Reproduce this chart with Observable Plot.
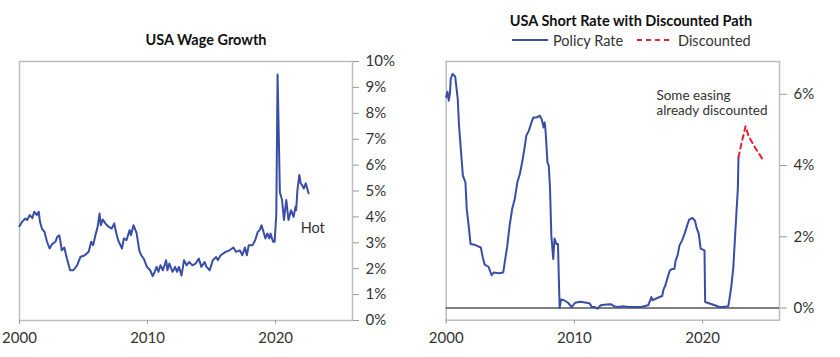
<!DOCTYPE html>
<html><head><meta charset="utf-8">
<script src="https://cdn.jsdelivr.net/npm/d3@7"></script>
<script src="https://cdn.jsdelivr.net/npm/@observablehq/plot@0.6"></script>
<style>
body{margin:0;background:#fff;font-family:Lato,"Open Sans",sans-serif;}
#wrap{position:relative;width:840px;height:357px;overflow:hidden;}
.panel{position:absolute;top:0;}
.title{position:absolute;font-weight:bold;font-size:14.5px;color:#111;white-space:nowrap;transform:translate(-50%,-50%);}
.leg{position:absolute;font-size:14.5px;color:#333;white-space:nowrap;transform:translateY(-50%);}
.legsw{position:absolute;transform:translateY(-50%);}
</style></head>
<body><div id="wrap">
<div class="title" style="left:206px;top:39px">USA Wage Growth</div>
<div class="title" style="left:631px;top:20px">USA Short Rate with Discounted Path</div>
<svg class="legsw" style="left:512px;top:40px" width="36" height="4"><line x1="0" x2="36" y1="2" y2="2" stroke="#3a4da6" stroke-width="2"/></svg>
<div class="leg" style="left:553px;top:40px">Policy Rate</div>
<svg class="legsw" style="left:637px;top:40px" width="36" height="4"><line x1="0" x2="36" y1="2" y2="2" stroke="#e8202e" stroke-width="2" stroke-dasharray="5,4"/></svg>
<div class="leg" style="left:678px;top:40px">Discounted</div>
<div id="left" class="panel" style="left:0"></div>
<div id="right" class="panel" style="left:420px"></div>
</div>
<script>
const wageYears = [2000.0,2000.2,2000.45,2000.6,2000.8,2001.0,2001.15,2001.35,2001.5,2001.6,2001.75,2001.95,2002.15,2002.35,2002.55,2002.8,2002.95,2003.1,2003.2,2003.3,2003.5,2003.7,2003.95,2004.2,2004.5,2004.75,2005.1,2005.4,2005.6,2005.75,2005.9,2006.1,2006.25,2006.35,2006.5,2006.7,2006.95,2007.2,2007.4,2007.5,2007.7,2008.0,2008.15,2008.35,2008.6,2008.7,2008.9,2009.15,2009.35,2009.5,2009.7,2009.95,2010.2,2010.4,2010.55,2010.7,2010.85,2011.0,2011.2,2011.45,2011.55,2011.7,2011.95,2012.15,2012.3,2012.45,2012.65,2012.85,2013.05,2013.25,2013.5,2013.75,2014.0,2014.2,2014.45,2014.6,2014.85,2015.1,2015.35,2015.5,2015.7,2016.1,2016.4,2016.7,2016.9,2017.2,2017.4,2017.6,2017.75,2017.9,2018.2,2018.4,2018.6,2018.75,2018.9,2019.2,2019.35,2019.5,2019.6,2019.8,2019.92,2020.05,2020.15,2020.33,2020.5,2020.65,2020.83,2021.0,2021.2,2021.4,2021.55,2021.6,2021.7,2021.85,2021.95,2022.05,2022.2,2022.35,2022.57];
const wageValues = [3.64,3.81,3.94,3.88,4.07,3.95,4.2,4.07,4.2,3.81,3.55,3.42,3.04,2.78,2.95,3.04,3.23,3.29,3.04,2.71,2.82,2.39,1.94,1.94,2.13,2.45,2.52,2.65,3.04,2.91,3.23,3.62,4.13,3.68,3.9,3.75,3.62,3.55,3.75,3.49,3.1,2.78,3.17,3.1,3.49,3.29,3.68,3.36,2.71,2.52,2.39,2.07,1.94,1.71,1.88,2.07,1.88,2.13,1.94,2.33,1.94,2.2,1.88,2.07,1.88,2.07,1.74,2.33,2.13,2.26,2.13,2.2,2.39,2.07,2.26,2.07,1.94,2.33,2.45,2.33,2.52,2.65,2.71,2.82,2.65,2.71,2.52,2.82,2.52,2.91,2.91,3.1,3.42,3.49,3.68,3.17,3.36,3.17,3.36,3.04,3.04,4.1,9.5,4.95,4.65,3.88,4.65,3.88,4.26,4.0,4.39,4.26,5.04,5.62,5.3,5.23,5.1,5.3,4.91];

const rateYears = [2000.0,2000.1,2000.2,2000.3,2000.35,2000.5,2000.7,2000.9,2001.0,2001.15,2001.3,2001.5,2001.6,2001.75,2001.9,2002.2,2002.45,2002.7,2002.85,2003.0,2003.3,2003.55,2003.7,2004.1,2004.45,2004.55,2004.75,2004.95,2005.15,2005.35,2005.55,2005.75,2005.95,2006.1,2006.25,2006.45,2006.65,2006.8,2007.05,2007.3,2007.45,2007.6,2007.68,2007.75,2007.9,2008.0,2008.1,2008.2,2008.35,2008.45,2008.6,2008.72,2008.78,2008.85,2008.95,2009.2,2009.5,2009.8,2010.05,2010.45,2010.95,2011.2,2011.35,2011.6,2011.8,2012.05,2012.5,2012.85,2013.1,2013.4,2013.8,2014.2,2014.7,2015.2,2015.75,2015.9,2016.0,2016.1,2016.4,2016.65,2016.85,2016.95,2017.1,2017.3,2017.45,2017.65,2017.8,2017.9,2018.05,2018.2,2018.4,2018.6,2018.8,2018.95,2019.2,2019.4,2019.55,2019.7,2019.85,2020.15,2020.2,2020.55,2020.95,2021.3,2021.6,2022.0,2022.1,2022.25,2022.4,2022.5,2022.65,2022.75,2022.8];
const rateValues = [5.92,6.07,5.82,6.05,6.43,6.57,6.5,5.87,5.12,4.42,3.72,3.53,2.79,2.32,1.8,1.78,1.74,1.7,1.43,1.22,1.16,0.92,1.0,0.98,1.0,1.24,1.71,2.32,2.79,3.07,3.53,3.77,4.14,4.47,4.84,4.98,5.21,5.35,5.35,5.4,5.3,5.07,5.21,4.98,4.09,4.0,3.35,2.04,1.38,1.95,1.8,1.8,0.92,0.0,0.24,0.22,0.15,0.03,0.15,0.18,0.15,0.13,0.03,0.03,-0.02,0.08,0.1,0.11,0.05,0.03,0.05,0.03,0.03,0.03,0.08,0.2,0.31,0.22,0.27,0.31,0.34,0.52,0.64,0.89,1.06,1.1,1.1,1.34,1.48,1.76,1.9,2.09,2.32,2.48,2.53,2.46,2.23,2.09,1.67,1.62,0.17,0.13,0.08,0.03,0.03,0.05,0.26,0.64,1.15,1.8,2.74,3.35,4.23];

const discYears = [2022.8,2023.05,2023.35,2023.6,2024.1,2024.75];
const discValues = [4.23,4.65,5.1,4.82,4.5,4.14];

const xTicks = [2000,2010,2020];
const wageTicks = [0,1,2,3,4,5,6,7,8,9,10];
const rateTicks = [0,2,4,6];
const wageNote = [{year:2021.95, value:3.54, label:"Hot"}];
const rateNote = [{year:2016.4, value:5.76, label:"Some easing\nalready discounted"}];

const wage = wageYears.map((y,i)=>({year:y, value:wageValues[i]}));
const rate = rateYears.map((y,i)=>({year:y, value:rateValues[i]}));
const disc = discYears.map((y,i)=>({year:y, value:discValues[i]}));

const BLUE = "#3a4da6", RED = "#e8202e";
const style = {fontFamily:"Lato, 'Open Sans', sans-serif", fontSize:"15px", color:"#333", background:"transparent", overflow:"visible"};
const pct = d => d + "%";

const left = Plot.plot({
  width:420, height:357,
  marginLeft:19, marginRight:68, marginTop:61, marginBottom:37,
  style,
  x:{domain:[2000,2026], label:null},
  y:{domain:[0,10], label:null},
  marks:[
    Plot.frame({stroke:"#bdbdbd", strokeWidth:1.5}),
    Plot.axisY({anchor:"right", ticks:wageTicks, tickFormat:pct, tickSize:6, tickPadding:7, stroke:"#999", fill:"#333", label:null}),
    Plot.axisX({ticks:xTicks, tickFormat:d=>String(d), tickSize:4, tickPadding:8, stroke:"#999", fill:"#333", label:null}),
    Plot.line(wage, {x:"year", y:"value", stroke:BLUE, strokeWidth:2}),
    Plot.text(wageNote, {x:"year", y:"value", text:"label", textAnchor:"start", fontSize:14.5, fill:"#333"})
  ]
});
document.getElementById("left").appendChild(left);

const right = Plot.plot({
  width:420, height:357,
  marginLeft:25.7, marginRight:61, marginTop:61, marginBottom:37.3,
  style,
  x:{domain:[2000,2026], label:null},
  y:{domain:[-0.34,6.92], label:null},
  marks:[
    Plot.frame({stroke:"#bdbdbd", strokeWidth:1.5}),
    Plot.ruleY([0], {stroke:"#555", strokeWidth:1.5}),
    Plot.axisY({anchor:"right", ticks:rateTicks, tickFormat:pct, tickSize:7, tickPadding:7, stroke:"#999", fill:"#333", label:null}),
    Plot.axisX({ticks:xTicks, tickFormat:d=>String(d), tickSize:4, tickPadding:8, stroke:"#999", fill:"#333", label:null}),
    Plot.line(rate, {x:"year", y:"value", stroke:BLUE, strokeWidth:2}),
    Plot.line(disc, {x:"year", y:"value", stroke:RED, strokeWidth:2, strokeDasharray:"5,4"}),
    Plot.text(rateNote, {x:"year", y:"value", text:"label", textAnchor:"start", fontSize:13.5, lineHeight:1.12, fill:"#333"})
  ]
});
document.getElementById("right").appendChild(right);
</script>
</body></html>
